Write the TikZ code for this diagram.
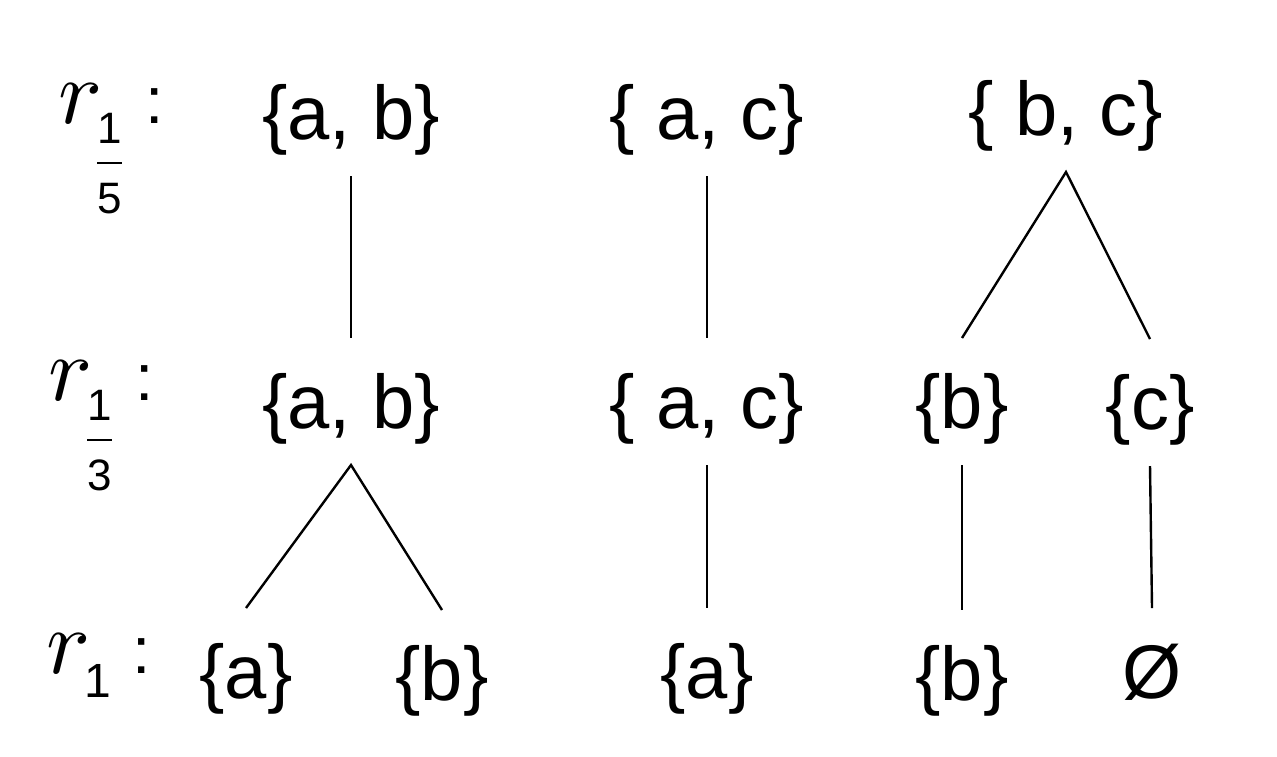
\documentclass[tikz,border=0pt]{standalone}
\usepackage{fontspec}
\setmainfont{Liberation Sans}
\newcommand\rsym{{\normalsize\scalebox{4.6}{$r$}}}
\newcommand\fracsub[2]{{\fontsize{22}{22}\selectfont
  \rlap{\raisebox{-10pt}{\makebox[12.5pt]{#1}}}%
  \rlap{\raisebox{-45pt}{\makebox[12.5pt]{#2}}}%
  \raisebox{-20.6pt}{\rule{12.5pt}{1.3pt}}}}
\newcommand\simplesub[1]{{\fontsize{24}{24}\selectfont\raisebox{-12pt}{#1}}}
\newcommand\lbl[1]{\rlap{#1}\hspace{43.5pt}{\fontsize{33}{33}\selectfont :}}
\begin{document}
\begin{tikzpicture}[x=0.5pt,y=-0.5pt,
  settext/.style={font=\fontsize{38}{38}\selectfont, inner sep=0pt, outer sep=0pt,
    text height=45pt, text depth=18.5pt, anchor=base},
  levellabel/.style={inner sep=0pt, outer sep=0pt, anchor=base west},
  link/.style={line width=1.2pt}]
\useasboundingbox[fill=white] (0,0) rectangle (1277,756);
% level labels
\node[levellabel] (l1) at (58,123) {\lbl{\rsym\kern-2.5pt\fracsub{1}{5}}};
\node[levellabel] (l2) at (48,400) {\lbl{\rsym\kern-2.5pt\fracsub{1}{3}}};
\node[levellabel] (l3) at (46,673) {\lbl{\rsym\kern-3pt\simplesub{1}}};
% row 1
\node[settext] (ab1) at (351,139) {\{a, b\}};
\node[settext] (ac1) at (707,139) {\{ a, c\}};
\node[settext] (bc1) at (1066,135) {\{ b, c\}};
% row 2
\node[settext] (ab2) at (351,428) {\{a, b\}};
\node[settext] (ac2) at (707,428) {\{ a, c\}};
\node[settext] (b2) at (962,428) {\{b\}};
\node[settext] (c2) at (1150,429) {\{c\}};
% row 3
\node[settext] (a3) at (246,698) {\{a\}};
\node[settext] (b3) at (442,700) {\{b\}};
\node[settext] (a3m) at (707,698) {\{a\}};
\node[settext] (b3r) at (962,700) {\{b\}};
\node[settext] (e3) at (1152,698) {Ø};
% connectors
\draw[link] (ab1.south) -- (ab2.north);
\draw[link] (ac1.south) -- (ac2.north);
\draw[link] (b2.north) -- (bc1.south) -- (c2.north);
\draw[link] (a3.north) -- (ab2.south) -- (b3.north);
\draw[link] (ac2.south) -- (a3m.north);
\draw[link] (b2.south) -- (b3r.north);
\draw[link] (c2.south) -- (e3.north);
\end{tikzpicture}
\end{document}
